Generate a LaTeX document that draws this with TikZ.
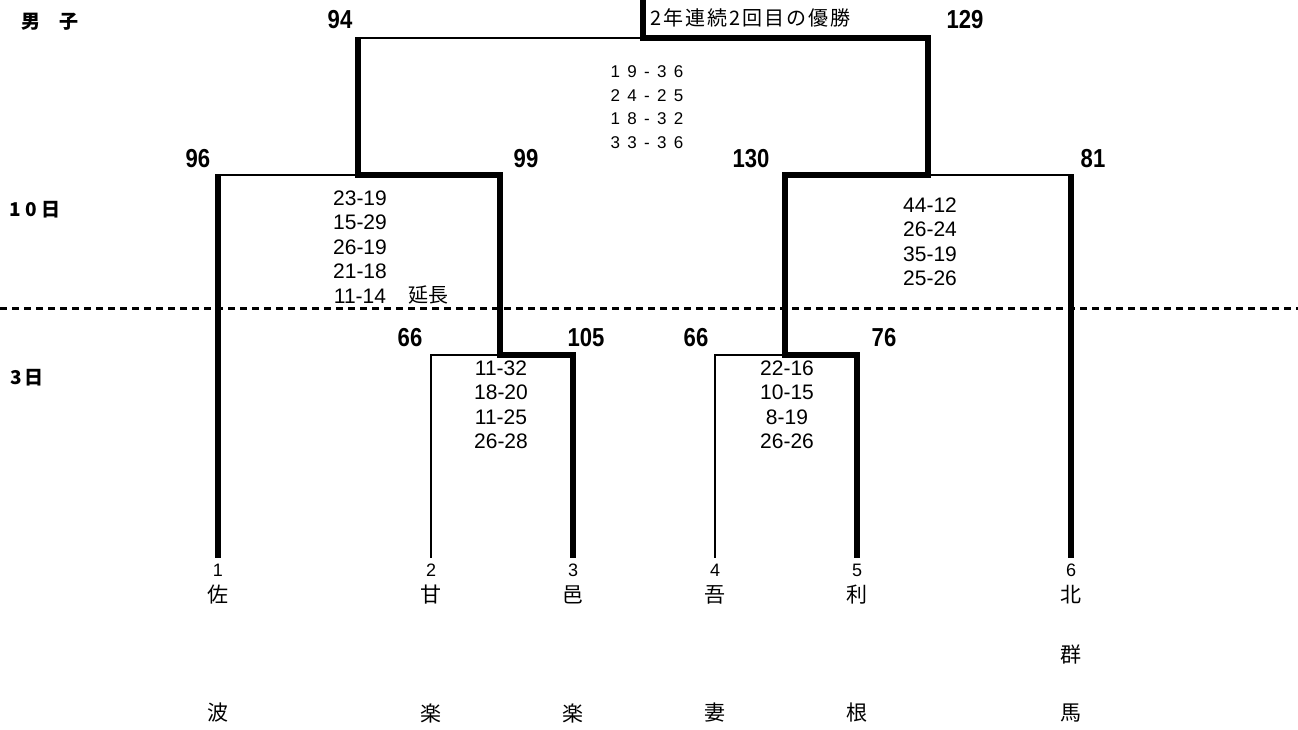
\documentclass[tikz,border=0pt]{standalone}
\usepackage{fontspec}
\setmainfont{Liberation Sans}
\newfontfamily\jpfont{Noto Sans CJK JP}
\usetikzlibrary{positioning}

\begin{document}
\begin{tikzpicture}[
    x=1pt, y=-1pt,
    % Styles
    loser/.style={
        line width=2.5pt
    },
    winner/.style={
        line width=5.5pt,
        line join=miter
    },
    dayline/.style={
        line width=3pt,
        dash pattern=on 7pt off 5pt
    },
    points/.style={ % Points scored by a team
        inner sep=0pt,
        xscale=0.85,
        font=\bfseries\fontsize{26}{26}\selectfont
    },
    sets/.style={ % Set scores of a match
        align=center,
        inner sep=0pt,
        font=\fontsize{21}{24.5}\selectfont
    },
    team/.style={
        inner sep=0pt,
        outer ysep=6pt,
        font=\fontsize{18}{18}\selectfont
    },
    school/.style={
        inner sep=0pt,
        font=\jpfont\fontsize{21}{21}\selectfont
    },
    heading/.style={
        inner sep=0pt,
        font=\jpfont\bfseries\fontsize{19}{19}\selectfont
    }
]
    \useasboundingbox (0,0) rectangle (1298,729);

    % Headings
    \node[heading] (boys) at (50,22) {男　子};
    \node[heading] (day2) at (35,210) {1 0 日};
    \node[heading] (day1) at (27,378) {3\,日};

    % Teams
    \foreach \x/\n/\a/\b in {218/1/佐/波, 431/2/甘/楽, 573/3/邑/楽, 715/4/吾/妻, 857/5/利/根, 1071/6/北/馬} {
        \node[team] (t\n) at (\x,570) {\n};
        \node[school] (a\n) at (\x,595) {\a};
        \node[school] (b\n) at (\x,713) {\b};
    }
    \node[school] (m6) at (1071,655) {群};

    % Junctions
    \coordinate (q1) at (500,355);
    \coordinate (q2) at (785,355);
    \coordinate (s1) at (358,175);
    \coordinate (s2) at (928,175);
    \coordinate (f) at (643,38);
    \coordinate (top) at (643,0);

    % Day separator
    \coordinate (dl) at (0,308);
    \coordinate (dr) at (1298,308);
    \draw[dayline] (dl) -- (dr);

    % Losing lines
    \draw[loser] (t2.north) |- (q1);
    \draw[loser] (t4.north) |- (q2);
    \draw[loser] (t1.north |- s1) -- (s1);
    \draw[loser] (s2) -- (t6.north |- s2);
    \draw[loser] (s1 |- f) -- (f);

    % Winning lines
    \draw[winner, shorten >=-1.25pt] (t1.north) -- (t1.north |- s1);
    \draw[winner, shorten >=-1.25pt] (t6.north) -- (t6.north |- s2);
    \draw[winner, shorten >=-1.25pt] (t3.north) |- (q1) |- (s1) -- (s1 |- f);
    \draw[winner] (top) -- (f) -| (s2) -| (q2) -| (t5.north);

    % Points
    \node[points] (p1) at (340,20) {94};
    \node[points] (p2) at (965,20) {129};
    \node[points] (p3) at (198,159) {96};
    \node[points] (p4) at (526,159) {99};
    \node[points] (p5) at (751,159) {130};
    \node[points] (p6) at (1093,159) {81};
    \node[points] (p7) at (410,338) {66};
    \node[points] (p8) at (586,338) {105};
    \node[points] (p9) at (696,338) {66};
    \node[points] (p10) at (884,338) {76};

    % Set scores
    \node[sets] (g1) at (501,405) {11-32\\18-20\\11-25\\26-28};
    \node[sets] (g2) at (787,405) {22-16\\10-15\\8-19\\26-26};
    \node[sets] (g3) at (360,247) {23-19\\15-29\\26-19\\21-18\\11-14};
    \node[school, font=\jpfont\fontsize{20}{20}\selectfont] (ext) at (428,295) {延長};
    \node[sets] (g4) at (930,242) {44-12\\26-24\\35-19\\25-26};
    \node[sets, font=\fontsize{17}{23.7}\selectfont\addfontfeature{LetterSpace=43}] (g5) at (647,107) {19-36\\24-25\\18-32\\33-36};

    % Champion
    \node[school, anchor=west, font=\jpfont\fontsize{20}{20}\selectfont\addfontfeature{LetterSpace=10}] (title) at (650,18) {2年連続2回目の優勝};
\end{tikzpicture}
\end{document}
